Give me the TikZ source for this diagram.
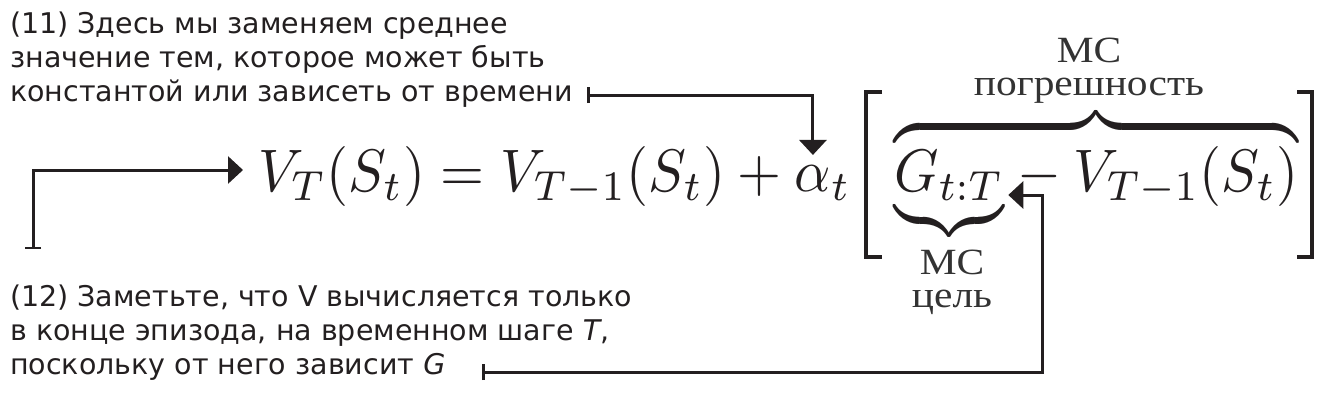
\documentclass[tikz,border=0pt]{standalone}
\usepackage{graphicx}
\usepackage{fontspec}
\setmainfont{DejaVu Sans}
\newfontfamily\labelfont[FakeStretch=1.12]{Liberation Serif}
\usetikzlibrary{arrows.meta,positioning,calc}
\definecolor{ink}{HTML}{231F20}
\newcommand{\bigmath}[1]{\scalebox{5.65}[6]{$#1$}}
\begin{document}
\begin{tikzpicture}[x=1pt,y=-1pt,
  note/.style={font=\fontsize{28.5}{34}\selectfont, align=left, inner sep=0pt, anchor=north west, text=ink},
  eq/.style={font=\fontsize{10}{12}\selectfont, inner sep=0pt, anchor=base west, text=ink},
  lbl/.style={font=\labelfont\fontsize{37}{33}\selectfont, align=center, inner sep=0pt, text=black!80},
  conn/.style={draw=ink, line width=3pt, {Bar[width=16pt,line width=2.5pt]}-{Triangle[length=15pt,width=27pt]}},
  brk/.style={draw=ink, line cap=butt, line join=miter},
]
\useasboundingbox (0,0) rectangle (1335,408);
% annotations
\node[note] (n11) at (10,11.5) {(11) Здесь мы заменяем среднее\\значение тем, которое может быть\\константой или зависеть от времени};
\node[note] (n12) at (10,284.5) {(12) Заметьте, что V вычисляется только\\в конце эпизода, на временном шаге \textit{T},\\поскольку от него зависит \textit{G}};
% equation
\node[eq] (eqL) at (258,191) {\bigmath{V_T(S_t) = V_{T-1}(S_t) + {}}};
\node[eq] (alpha) at (eqL.base east) {\bigmath{\alpha_t}};
\node[eq] (G) at (894,191) {\bigmath{G_{t:T}}};
\node[eq] (rest) at (G.base east) {\bigmath{{}-V_{T-1}(S_t)}};
\node[eq] (ob) at ([yshift=-2pt]G.base west) {\bigmath{\overbrace{\phantom{G_{t:T}-V_{T-1}(S_t)}}}};
\node[eq] (ub) at ([yshift=1pt]G.base west) {\bigmath{\underbrace{\phantom{G_{t:T}}}}};
\node[lbl, anchor=south] (lt) at (1089,104) {МС\\погрешность};
\node[lbl, anchor=north] (lb) at (952,250) {МС\\цель};
% brackets
\draw[brk, line width=3.5pt] (882,92) -- (866,92) -- (866,257) -- (882,257);
\draw[brk, line width=4.5pt] (1297,92) -- (1312,92) -- (1312,257) -- (1297,257);
% connectors
\coordinate (b11) at (587,95);
\coordinate (b0) at (33,249);
\coordinate (b12) at (482,372);
\draw[conn] (b11) -| ([xshift=-10pt,yshift=10pt]alpha.north);
\draw[conn] (b0) |- ([xshift=-15pt,yshift=21pt]eqL.base west);
\draw[conn] (b12) -| ([xshift=38pt,yshift=-4pt]G.base east) -- ([xshift=4pt,yshift=-4pt]G.base east);
\end{tikzpicture}
\end{document}
